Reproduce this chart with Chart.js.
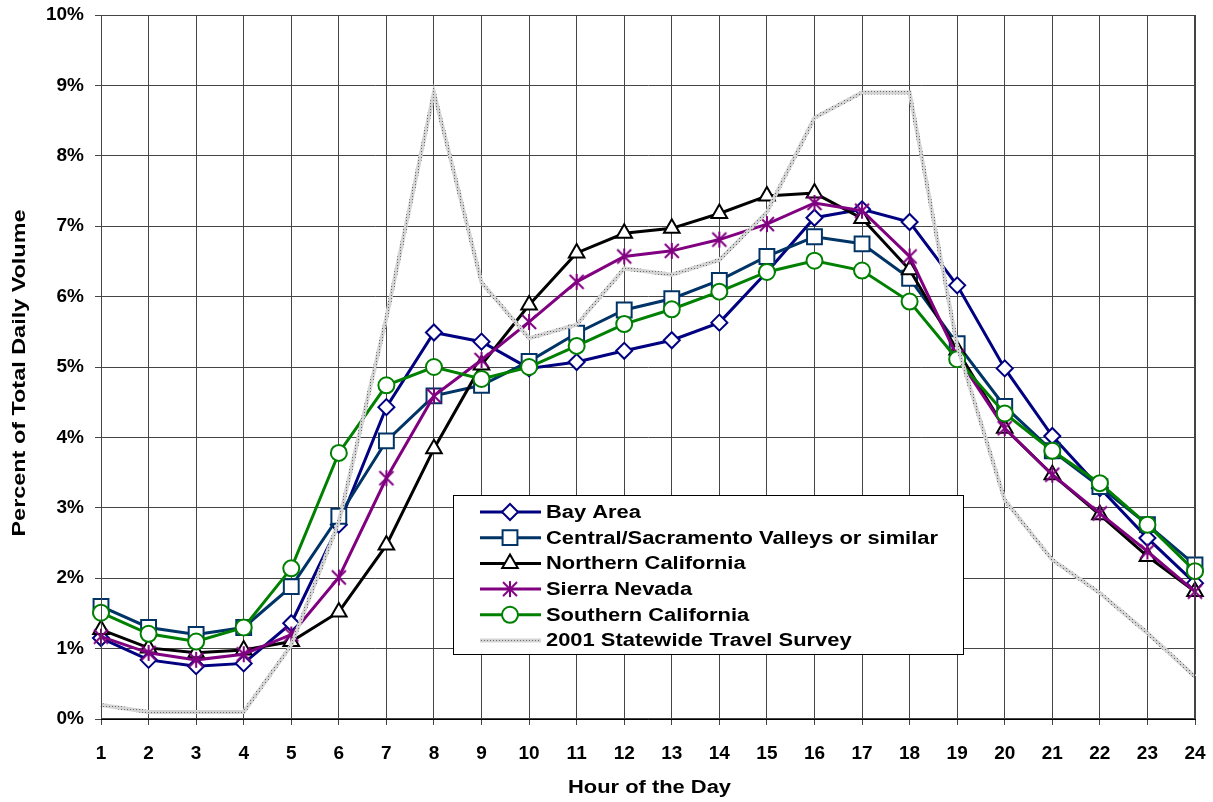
<!DOCTYPE html>
<html>
<head>
<meta charset="utf-8">
<script src="https://cdn.jsdelivr.net/npm/chart.js@4/dist/chart.umd.min.js"></script>
<style>
  html, body { margin: 0; padding: 0; background: #fff; }
  #wrap { width: 1213px; height: 802px; }
</style>
</head>
<body>
<div id="wrap"><canvas id="chart" width="1213" height="802"></canvas></div>
<script>
// hourly share of daily volume (%)
const hours = ['1','2','3','4','5','6','7','8','9','10','11','12','13','14','15','16','17','18','19','20','21','22','23','24'];
const bayArea   = [1.15,0.84,0.75,0.79,1.36,2.76,4.43,5.49,5.36,4.98,5.07,5.23,5.38,5.63,6.35,7.12,7.24,7.06,6.16,4.98,4.02,3.28,2.57,1.93];
const central   = [1.60,1.30,1.20,1.30,1.88,2.88,3.95,4.59,4.74,5.08,5.48,5.81,5.97,6.23,6.57,6.85,6.75,6.26,5.33,4.44,3.81,3.30,2.76,2.19];
const northern  = [1.27,1.01,0.94,0.98,1.10,1.52,2.47,3.84,5.03,5.88,6.62,6.90,6.97,7.18,7.43,7.47,7.11,6.38,5.24,4.13,3.47,2.90,2.31,1.81];
const sierra    = [1.17,0.94,0.84,0.92,1.20,2.01,3.42,4.59,5.10,5.64,6.21,6.57,6.65,6.81,7.03,7.33,7.22,6.57,5.15,4.13,3.47,2.92,2.38,1.81];
const southern  = [1.51,1.21,1.10,1.30,2.14,3.78,4.74,5.00,4.83,5.00,5.30,5.61,5.82,6.07,6.35,6.51,6.37,5.93,5.11,4.34,3.81,3.35,2.76,2.10];
const survey    = [0.2,0.1,0.1,0.1,1.05,2.8,5.7,8.9,6.2,5.41,5.6,6.4,6.31,6.52,7.2,8.54,8.9,8.9,5.3,3.11,2.26,1.79,1.22,0.6];
const yTicks = [0,1,2,3,4,5,6,7,8,9,10];
const xTitle = 'Hour of the Day';
const yTitle = 'Percent of Total Daily Volume';

const FONT = 'Liberation Sans, Arial, sans-serif';

// excel style asterisk marker
function makeStar(color) {
  const c = document.createElement('canvas');
  c.width = 20; c.height = 20;
  const g = c.getContext('2d');
  g.strokeStyle = color;
  g.lineWidth = 2;
  g.beginPath();
  g.moveTo(10, 2); g.lineTo(10, 18);
  g.moveTo(3, 3); g.lineTo(17, 17);
  g.moveTo(17, 3); g.lineTo(3, 17);
  g.stroke();
  return c;
}

// grey dotted line like the survey series
function makeDotted() {
  const c = document.createElement('canvas');
  c.width = 3; c.height = 3;
  const g = c.getContext('2d');
  g.fillStyle = '#d4d4d4';
  g.fillRect(0, 0, 3, 3);
  g.fillStyle = '#6a6a6a';
  g.fillRect(1, 1, 1, 1);
  return g.createPattern(c, 'repeat');
}
const dotted = makeDotted();

function series(label, data, color, style, radius, order) {
  return {
    label: label,
    data: data,
    borderColor: color,
    borderWidth: 3,
    pointStyle: style,
    pointRadius: radius,
    pointBackgroundColor: '#fff',
    pointBorderColor: color,
    pointBorderWidth: 2,
    tension: 0,
    order: order
  };
}

const datasets = [
  series('Bay Area', bayArea, '#000080', 'rectRot', 8, 5),
  series('Central/Sacramento Valleys or similar', central, '#003366', 'rect', 10.5, 4),
  series('Northern California', northern, '#000000', 'triangle', 9, 3),
  series('Sierra Nevada', sierra, '#800080', makeStar('#800080'), 10, 2),
  series('Southern California', southern, '#008000', 'circle', 8, 1),
  {
    label: '2001 Statewide Travel Survey',
    data: survey,
    borderColor: dotted,
    borderWidth: 4,
    pointRadius: 0,
    tension: 0,
    order: 0
  }
];

// stretched text, the original was drawn wider than the font
function wideText(ctx, text, x, y, width, align) {
  const w = ctx.measureText(text).width;
  const k = width / w;
  ctx.save();
  ctx.translate(x, y);
  ctx.scale(k, 1);
  ctx.textAlign = align;
  ctx.fillText(text, 0, 0);
  ctx.restore();
}

const legendBox = {
  id: 'legendBox',
  afterDraw(chart) {
    const ctx = chart.ctx;
    const x0 = 453, y0 = 495, w = 510, h = 159;
    ctx.save();
    ctx.fillStyle = '#fff';
    ctx.fillRect(x0, y0, w, h);
    ctx.strokeStyle = '#000';
    ctx.lineWidth = 1;
    ctx.strokeRect(x0 + 0.5, y0 + 0.5, w, h);
    ctx.font = 'bold 18px ' + FONT;
    ctx.textBaseline = 'middle';
    const k = 392 / ctx.measureText(chart.data.datasets[1].label).width;
    chart.data.datasets.forEach((ds, i) => {
      const y = 512 + i * 25.7;
      ctx.beginPath();
      ctx.strokeStyle = ds.borderColor;
      ctx.lineWidth = ds.borderWidth;
      ctx.moveTo(480, y);
      ctx.lineTo(541, y);
      ctx.stroke();
      if (ds.pointRadius) {
        ctx.fillStyle = '#fff';
        ctx.strokeStyle = ds.borderColor;
        ctx.lineWidth = 2;
        Chart.helpers.drawPoint(ctx, { pointStyle: ds.pointStyle, radius: ds.pointRadius, rotation: 0, borderWidth: 2 }, 510, y);
      }
      ctx.fillStyle = '#000';
      wideText(ctx, ds.label, 546, y + 1, ctx.measureText(ds.label).width * k, 'left');
    });

    // axis titles
    ctx.font = 'bold 18px ' + FONT;
    ctx.fillStyle = '#000';
    ctx.textBaseline = 'middle';
    wideText(ctx, xTitle, 649.5, 788, 163, 'center');
    ctx.save();
    ctx.translate(20, 373);
    ctx.rotate(-Math.PI / 2);
    wideText(ctx, yTitle, 0, 0, 327, 'center');
    ctx.restore();
    ctx.restore();
  }
};

new Chart(document.getElementById('chart'), {
  type: 'line',
  data: { labels: hours, datasets: datasets },
  options: {
    responsive: false,
    animation: false,
    layout: { padding: { left: 0, right: 18, top: 15, bottom: 0 } },
    plugins: {
      legend: { display: false },
      tooltip: { enabled: false }
    },
    scales: {
      x: {
        offset: false,
        grid: { color: '#444', lineWidth: 1, tickLength: 6 },
        border: { color: '#000', width: 1 },
        ticks: {
          color: '#000',
          font: { family: FONT, size: 19, weight: 'bold' },
          padding: 17,
          maxRotation: 0,
          autoSkip: false
        },
        afterFit(scale) {
          scale.height = 83;
          scale.paddingLeft = 0;
          scale.paddingRight = 0;
        }
      },
      y: {
        min: 0,
        max: 10,
        afterBuildTicks(scale) { scale.ticks = yTicks.map(v => ({ value: v })); },
        grid: { color: '#444', lineWidth: 1, tickLength: 6 },
        border: { color: '#000', width: 1 },
        ticks: {
          color: '#000',
          font: { family: FONT, size: 19, weight: 'bold' },
          padding: 11,
          callback: v => v + '%'
        },
        afterFit(scale) {
          scale.width = 101;
          scale.paddingTop = 0;
          scale.paddingBottom = 0;
        }
      }
    }
  },
  plugins: [legendBox, {
    id: 'frame',
    afterDatasetsDraw(chart) {
      const a = chart.chartArea, ctx = chart.ctx;
      ctx.save();
      ctx.strokeStyle = '#444';
      ctx.lineWidth = 1;
      ctx.strokeRect(a.left + 0.5, a.top + 0.5, a.right - a.left - 1, a.bottom - a.top - 1);
      ctx.restore();
    }
  }]
});
</script>
</body>
</html>
